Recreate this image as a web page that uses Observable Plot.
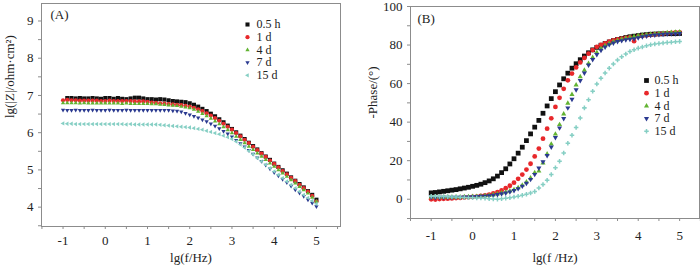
<!DOCTYPE html>
<html><head><meta charset="utf-8">
<script src="https://cdn.jsdelivr.net/npm/d3@7"></script>
<script src="https://cdn.jsdelivr.net/npm/@observablehq/plot@0.6"></script>
<style>
body{margin:0;background:#fff;}
#wrap{position:relative;width:700px;height:268px;overflow:hidden;background:#fff;}
#wrap svg{position:absolute;top:0;font-family:"Liberation Serif";}
#wrap svg text{font-family:"Liberation Serif";}
</style></head><body><div id="wrap"></div>
<script>
// frequency grid, lg(f/Hz)
const lgf = [-1,-0.9,-0.8,-0.7,-0.6,-0.5,-0.4,-0.3,-0.2,-0.1,
  0,0.1,0.2,0.3,0.4,0.5,0.6,0.7,0.8,0.9,
  1,1.1,1.2,1.3,1.4,1.5,1.6,1.7,1.8,1.9,
  2,2.1,2.2,2.3,2.4,2.5,2.6,2.7,2.8,2.9,
  3,3.1,3.2,3.3,3.4,3.5,3.6,3.7,3.8,3.9,
  4,4.1,4.2,4.3,4.4,4.5,4.6,4.7,4.8,4.9,5];
const seriesNames = ["0.5 h","1 d","4 d","7 d","15 d"];
const seriesColors = ["#111111","#e8282b","#62b332","#2b3a90","#86cfc4"];

// Panel A: lg(|Z|/ohm·cm²)
const lgZ_05h = [null,6.93,6.93,6.92,6.93,6.92,6.92,6.93,6.92,6.91,
  6.93,6.93,6.91,6.93,6.91,6.90,6.92,6.94,6.94,6.92,
  6.90,6.90,6.89,6.90,6.89,6.87,6.85,6.84,6.83,6.82,
  6.79,6.75,6.70,6.64,6.58,6.51,6.44,6.36,6.28,6.19,
  6.10,6.01,5.92,5.83,5.73,5.64,5.55,5.45,5.36,5.27,
  5.17,5.08,4.99,4.90,4.80,4.71,4.62,4.53,4.43,4.33,4.20];
const lgZ_1d = [6.87,6.88,6.87,6.87,6.86,6.86,6.86,6.86,6.86,6.85,
  6.85,6.86,6.85,6.85,6.85,6.85,6.85,6.84,6.84,6.84,
  6.83,6.81,6.80,6.79,6.78,6.77,6.76,6.75,6.74,6.72,
  6.70,6.67,6.63,6.58,6.52,6.46,6.39,6.32,6.24,6.16,
  6.08,5.99,5.90,5.81,5.72,5.62,5.53,5.44,5.35,5.25,
  5.16,5.07,4.97,4.88,4.79,4.70,4.60,4.51,4.42,4.30,4.15];
const lgZ_4d = [6.80,6.80,6.80,6.80,6.79,6.80,6.79,6.79,6.79,6.79,
  6.79,6.79,6.79,6.79,6.78,6.79,6.78,6.78,6.78,6.78,
  6.78,6.77,6.77,6.76,6.75,6.74,6.73,6.72,6.70,6.68,
  6.66,6.62,6.57,6.51,6.45,6.38,6.31,6.23,6.15,6.07,
  5.99,5.90,5.81,5.72,5.63,5.54,5.45,5.36,5.27,5.18,
  5.09,5.00,4.91,4.82,4.73,4.64,4.55,4.46,4.37,4.26,4.15];
const lgZ_7d = [6.61,6.60,6.60,6.61,6.60,6.60,6.60,6.61,6.60,6.60,
  6.60,6.61,6.60,6.60,6.60,6.61,6.60,6.60,6.60,6.60,
  6.60,6.60,6.60,6.60,6.60,6.60,6.59,6.58,6.56,6.52,
  6.48,6.44,6.40,6.35,6.30,6.24,6.18,6.11,6.04,5.97,
  5.89,5.80,5.71,5.62,5.53,5.43,5.33,5.23,5.13,5.03,
  4.93,4.84,4.75,4.66,4.57,4.47,4.38,4.29,4.20,4.11,4.02];
const lgZ_15d = [6.25,6.24,6.24,6.23,6.23,6.23,6.23,6.23,6.23,6.23,
  6.23,6.23,6.23,6.23,6.23,6.22,6.23,6.22,6.22,6.22,
  6.22,6.22,6.22,6.21,6.20,6.19,6.18,6.17,6.16,6.15,
  6.14,6.12,6.10,6.08,6.05,6.02,5.99,5.96,5.92,5.88,
  5.83,5.76,5.68,5.60,5.51,5.42,5.32,5.23,5.14,5.05,
  4.96,4.87,4.78,4.69,4.60,4.51,4.42,4.33,4.25,4.17,4.09];

// Panel B: -Phase/(°)
const ph_05h = [3.3,3.5,3.8,4.1,4.4,4.7,5.0,5.4,5.8,6.2,
  6.7,7.2,7.8,8.6,9.5,10.6,12.0,13.8,15.8,18.3,
  21.0,23.9,27.0,30.4,33.9,37.4,40.9,44.6,48.4,52.2,
  55.8,59.3,62.5,65.4,68.0,70.3,72.4,74.3,76.0,77.5,
  78.8,79.9,80.8,81.6,82.3,82.9,83.4,83.9,84.3,84.6,
  84.9,85.2,85.4,85.6,85.7,85.8,85.8,85.9,85.9,85.9,86.0];
const ph_1d = [0.0,-0.2,0.1,0.2,0.3,0.4,0.6,0.7,0.9,1.0,
  1.2,1.4,1.7,2.0,2.4,3.0,3.7,4.6,5.7,7.0,
  8.6,10.6,12.8,15.4,18.4,22.2,26.3,31.4,36.6,42.0,
  47.9,52.6,57.3,61.7,65.2,68.4,71.0,73.3,75.5,77.4,
  79.1,80.1,80.9,81.7,82.4,82.9,83.3,83.7,84.0,82.0,
  84.5,84.8,85.0,85.3,85.5,85.7,85.9,86.1,86.3,86.5,86.6];
const ph_4d = [1.2,1.2,1.1,1.2,1.2,1.1,1.2,1.2,1.3,1.3,
  1.4,1.5,1.6,1.8,2.0,2.3,2.7,3.2,3.7,4.3,
  5.0,6.0,7.3,8.9,11.0,13.8,14.6,18.8,23.5,28.6,
  33.8,38.7,44.2,49.8,54.3,59.3,63.6,66.9,70.4,73.5,
  76.1,78.1,79.6,80.8,81.7,82.4,83.0,83.5,84.0,84.4,
  84.8,85.1,85.4,85.6,85.8,86.0,86.2,86.4,86.5,86.7,86.8];
const ph_7d = [1.0,0.9,1.0,1.0,1.1,1.0,1.1,1.1,1.2,1.2,
  1.3,1.4,1.5,1.6,1.8,2.1,2.4,2.8,3.2,3.8,
  4.5,5.5,6.8,8.3,10.3,12.9,16.2,19.4,22.7,27.1,
  32.0,37.0,41.9,47.4,51.9,56.8,61.6,65.5,69.6,72.5,
  75.1,77.3,79.0,80.2,81.1,81.8,82.3,82.7,83.0,83.3,
  83.8,84.3,84.7,85.0,85.2,85.4,85.6,85.7,85.8,85.9,86.0];
const ph_15d = [1.6,1.5,1.4,1.4,1.3,1.2,1.1,1.0,0.9,0.8,
  0.8,0.7,0.6,0.5,0.3,0.1,0.0,0.2,0.5,0.8,
  1.2,1.6,2.1,2.6,3.2,4.0,5.8,7.6,9.9,12.8,
  16.3,19.7,24.0,29.0,33.2,37.2,42.2,47.4,51.6,56.0,
  59.8,62.8,65.5,68.0,70.2,72.2,73.9,75.4,76.6,77.6,
  78.4,79.0,79.6,80.1,80.5,80.8,81.1,81.3,81.5,81.7,81.9];

const xTickVals = [-1.5,-1,-0.5,0,0.5,1,1.5,2,2.5,3,3.5,4,4.5,5,5.5];
const yTickValsA = [3.5,4,4.5,5,5.5,6,6.5,7,7.5,8,8.5,9];
const yTickValsB = [-10,0,10,20,30,40,50,60,70,80,90,100];

const FONT = "Liberation Serif";
const fmtInt = d => Number.isInteger(d) ? String(d) : "";

function panel(cfg) {
  const {vals, symbols, rots, rs, xDomain, yDomain, yTicks, yFmt, m, xPad, title, xLabel, yLabel, yLabelDx, leg} = cfg;
  const marks = [
    Plot.frame({stroke: "#8c8c8c"}),
    Plot.axisX({ticks: xTickVals, tickFormat: fmtInt, tickSize: 3, tickPadding: xPad, stroke: "#8c8c8c", fill: "#222", fontSize: 13, label: null}),
    Plot.axisY({ticks: yTicks, tickFormat: yFmt, tickSize: 3, tickPadding: 5, stroke: "#8c8c8c", fill: "#222", fontSize: 13, label: null})
  ];
  vals.forEach((arr, i) => {
    const rows = lgf.map((x, j) => ({x, y: arr[j]})).filter(d => d.y != null);
    marks.push(Plot.dot(rows, {x: "x", y: "y", symbol: symbols[i], fill: seriesColors[i], stroke: "none", r: rs[i], rotate: rots[i]}));
  });
  // legend (positions relative to this panel's svg)
  seriesNames.forEach((name, i) => {
    marks.push(Plot.dot([0], {frameAnchor: "top-left", dx: leg.mx - m[3], dy: leg.y0 + i * leg.step - m[0], symbol: symbols[i], fill: seriesColors[i], r: rs[i], rotate: rots[i]}));
    marks.push(Plot.text([name], {frameAnchor: "top-left", dx: leg.tx - m[3], dy: leg.y0 + i * leg.step - m[0], textAnchor: "start", lineAnchor: "middle", fontSize: 12, fill: "#222"}));
  });
  marks.push(Plot.text([title], {frameAnchor: "top-left", dx: cfg.tdx, dy: cfg.tdy, textAnchor: "start", lineAnchor: "middle", fontSize: 13, fill: "#222"}));
  marks.push(Plot.text([xLabel], {frameAnchor: "bottom", dy: cfg.xlDy, lineAnchor: "middle", fontSize: 13, fill: "#222"}));
  marks.push(Plot.text([yLabel], {frameAnchor: "left", dx: yLabelDx, dy: cfg.ylDy, rotate: -90, lineAnchor: "middle", fontSize: 13, fill: "#222"}));
  return Plot.plot({
    width: 350, height: 268,
    marginTop: m[0], marginRight: m[1], marginBottom: m[2], marginLeft: m[3],
    x: {domain: xDomain}, y: {domain: yDomain},
    style: {fontFamily: FONT, fontSize: "13px", background: "white", color: "#222"},
    marks
  });
}

const svgA = panel({
  vals: [lgZ_05h, lgZ_1d, lgZ_4d, lgZ_7d, lgZ_15d],
  symbols: ["square", "circle", "triangle", "triangle", "triangle"],
  rots: [0, 0, 0, 180, -90],
  rs: [2.3, 2.1, 1.6, 1.6, 1.6],
  xDomain: [-1.51, 5.57], yDomain: [3.48, 9.47],
  yTicks: yTickValsA, yFmt: fmtInt,
  m: [3, 10, 42, 41], xPad: 6,
  title: "(A)", tdx: 9, tdy: 11,
  xLabel: "lg(f/Hz)", xlDy: 31,
  yLabel: "lg(|Z|/ohm·cm²)", yLabelDx: -32, ylDy: 3,
  leg: {mx: 247, tx: 256, y0: 24, step: 12.7}
});
const svgB = panel({
  vals: [ph_05h, ph_1d, ph_4d, ph_7d, ph_15d],
  symbols: ["square", "circle", "triangle", "triangle", "cross"],
  rots: [0, 0, 0, 180, 0],
  rs: [2.7, 2.4, 1.9, 1.9, 1.9],
  xDomain: [-1.5, 5.48], yDomain: [-10, 100],
  yTicks: yTickValsB, yFmt: d => d % 20 === 0 ? String(d) : "",
  m: [6, 1, 50, 60], xPad: 9,
  title: "(B)", tdx: 7, tdy: 12,
  xLabel: "lg(f /Hz)", xlDy: 39,
  yLabel: "-Phase/(°)", yLabelDx: -38, ylDy: 6,
  leg: {mx: 296, tx: 304, y0: 80, step: 12.7}
});
const wrap = document.getElementById("wrap");
svgA.style.left = "0px";
svgB.style.left = "350px";
wrap.appendChild(svgA);
wrap.appendChild(svgB);
</script>
</body></html>
